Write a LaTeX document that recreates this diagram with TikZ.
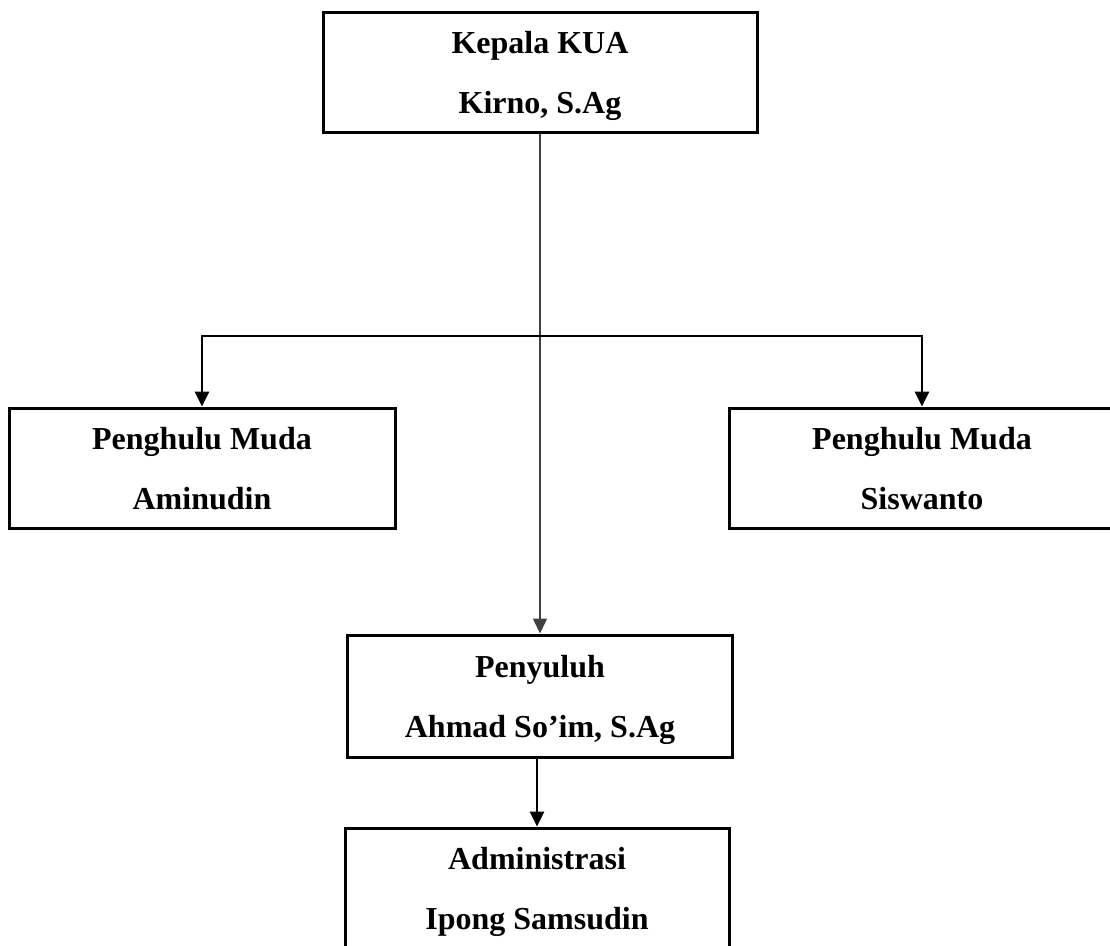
\documentclass[tikz,border=0pt]{standalone}
\usepackage{fontspec}
\setmainfont{Liberation Serif}
\usepackage{tikz}
\usetikzlibrary{arrows.meta}

\begin{document}
\begin{tikzpicture}[
    x=1pt, y=-1pt,
    b1/.style={rectangle, draw=black, line width=3pt, align=center, inner sep=0pt, text depth=0pt, minimum height=120pt, font=\fontsize{32}{60}\selectfont\bfseries},
    arr/.style={-{Triangle[length=15pt, width=14pt]}, line width=2.8pt, draw=black},
    arr2/.style={-{Triangle[length=15pt, width=14pt]}, line width=1.5pt, draw=black!75}
]
    \clip (0,0) rectangle (1110,945);

    \node [b1, minimum width=434pt] (n1) at (540,72) {Kepala KUA\\Kirno, S.Ag};
    \node [b1, minimum width=386pt] (n2) at (202,468) {Penghulu Muda\\Aminudin};
    \node [b1, minimum width=386pt] (n3) at (922,468) {Penghulu Muda\\Siswanto};
    \node [b1, minimum width=385pt, minimum height=122pt] (n4) at (540,696) {Penyuluh\\Ahmad So’im, S.Ag};
    \node [b1, minimum width=384pt] (n5) at (537,888) {Administrasi\\Ipong Samsudin};

    \coordinate (c1) at (540,336);

    \draw [arr2] (n1) -- (n4);
    \draw [arr] (c1) -| (n2.north);
    \draw [arr] (c1) -| (n3.north);
    \draw [arr] (n4.south -| n5.north) -- (n5.north);
\end{tikzpicture}
\end{document}
